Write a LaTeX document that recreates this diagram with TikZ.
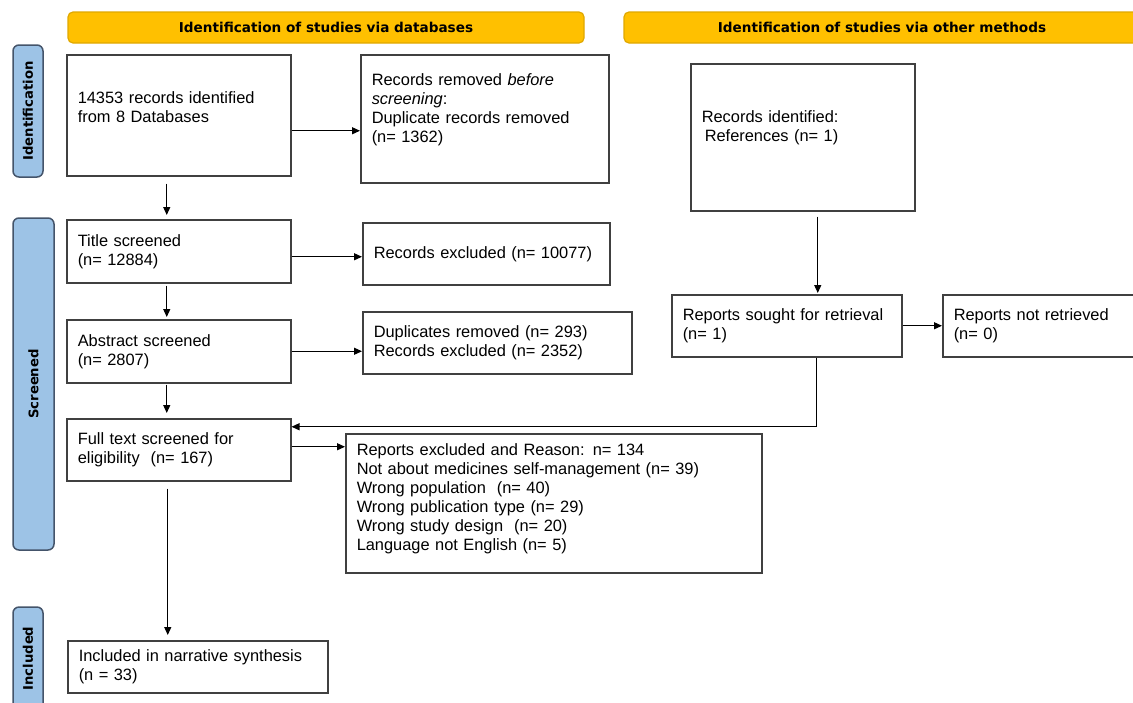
\documentclass[tikz,border=0pt]{standalone}
\usepackage{fontspec}
\setmainfont{Liberation Sans}
\newfontfamily\headfont{DejaVu Sans}
\usetikzlibrary{arrows.meta, positioning, calc}
\definecolor{headyellow}{HTML}{FFC000}
\definecolor{headedge}{HTML}{E0A800}
\definecolor{phaseblue}{HTML}{9DC3E6}
\definecolor{phaseedge}{HTML}{44546A}
\definecolor{boxedge}{HTML}{404040}
\newcommand{\boxpad}[1]{\rule[-#1]{0pt}{#1}}

\begin{document}
\begin{tikzpicture}[x=0.5pt, y=-0.5pt, >={Triangle[length=4pt,width=3.5pt]}, line width=0.6pt,
  box/.style={draw=boxedge, line width=0.75pt, anchor=north west, align=left, inner xsep=5.5pt, inner ysep=0pt, font=\fontsize{8.2}{9.5}\selectfont},
  head/.style={draw=headedge, fill=headyellow, rounded corners=2.5pt, minimum width=258pt, minimum height=15.5pt, font=\headfont\bfseries\fontsize{6.8}{8}\selectfont},
  phase/.style={draw=phaseedge, fill=phaseblue, line width=0.75pt, rounded corners=3pt, rotate=90, font=\headfont\bfseries\fontsize{6.6}{8}\selectfont},
  link/.style={->, draw=black}]

  \useasboundingbox (0,0) rectangle (1133,702);

  % column headers
  \node[head] (dbhead) at (326,27.5) {Identification of studies via databases};
  \node[head] (otherhead) at (882,27.5) {Identification of studies via other methods};

  % phases
  \node[phase, minimum width=66pt, minimum height=15pt] (idphase) at (28,111) {Identification};
  \node[phase, minimum width=166pt, minimum height=20.5pt] (scphase) at (33.5,384) {Screened};
  \node[phase, minimum width=51.5pt, minimum height=15pt] (inphase) at (28,658.5) {Included};

  % databases
  \node[box, minimum width=112pt, text width=101pt, minimum height=60.5pt] (b1) at (66,54) {14353 records identified\\from 8 Databases\boxpad{8pt}};
  \node[box, minimum width=124pt, text width=113pt, minimum height=64pt] (b2) at (360,54) {Records removed \textit{before}\\\textit{screening}:\\Duplicate records removed\\(n= 1362)\boxpad{10.5pt}};
  \node[box, minimum width=112pt, text width=101pt, minimum height=31.5pt] (b4) at (66,219) {Title screened\\(n= 12884)};
  \node[box, minimum width=123.5pt, text width=112.5pt, minimum height=31pt] (b5) at (362,222) {Records excluded (n= 10077)};
  \node[box, minimum width=112pt, text width=101pt, minimum height=31.5pt] (b6) at (66,319) {Abstract screened\\(n= 2807)};
  \node[box, minimum width=134.5pt, text width=123.5pt, minimum height=31pt] (b7) at (362,311) {Duplicates removed (n= 293)\\Records excluded (n= 2352)};
  \node[box, minimum width=112pt, text width=101pt, minimum height=31pt] (b10) at (66,418) {Full text screened for\\eligibility\ \ (n= 167)};
  \node[box, minimum width=208pt, text width=197pt, minimum height=69.5pt] (b11) at (345,433) {Reports excluded and Reason: n= 134\\Not about medicines self-management (n= 39)\\Wrong population\ \ (n= 40)\\Wrong publication type (n= 29)\\Wrong study design\ \ (n= 20)\\Language not English (n= 5)\boxpad{6.7pt}};
  \node[box, minimum width=130pt, text width=119pt, minimum height=26pt] (b12) at (67,640) {Included in narrative synthesis\\(n = 33)};

  % other methods
  \node[box, minimum width=112pt, text width=101pt, minimum height=73.5pt] (b3) at (690,63) {Records identified:\\\hspace*{1.5pt}References (n= 1)\boxpad{11pt}};
  \node[box, minimum width=115pt, text width=104pt, minimum height=31pt] (b8) at (671,294) {Reports sought for retrieval\\(n= 1)};
  \node[box, minimum width=100pt, text width=89pt, minimum height=31pt] (b9) at (942,294) {Reports not retrieved\\(n= 0)};

  % connectors
  \coordinate (a1) at ([yshift=-7.75pt]b1.east);
  \coordinate (a2) at ([yshift=-2.75pt]b4.east);
  \coordinate (a5) at ([yshift=1.5pt]b10.east);
  \draw[link] (a1) -- (a1 -| b2.west);
  \draw[link] (a2) -- (a2 -| b5.west);
  \draw[link] (b6.east) -- (b6.east -| b7.west);
  \draw[link] (b8.east) -- (b8.east -| b9.west);
  \draw[link] (a5) -- (a5 -| b11.west);

  \coordinate (d1) at ([xshift=-6pt]b1.south);
  \coordinate (d2) at ([xshift=-6pt]b4.south);
  \coordinate (d3) at ([xshift=-6pt]b6.south);
  \coordinate (d4) at ([xshift=-5.5pt]b10.south);
  \coordinate (d5) at ([xshift=7.5pt]b3.south);
  \draw[link, shorten <=3.5pt, shorten >=2pt] (d1) -- (d1 |- b4.north);
  \draw[link, shorten <=1pt, shorten >=1pt] (d2) -- (d2 |- b6.north);
  \draw[link, shorten <=0.5pt, shorten >=2.5pt] (d3) -- (d3 |- b10.north);
  \draw[link, shorten <=3.5pt, shorten >=2.5pt] (d4) -- (d4 |- b12.north);
  \draw[link, shorten <=2.5pt, shorten >=0.5pt] (d5) -- (d5 |- b8.north);

  \coordinate (r1) at ([xshift=15pt]b8.south);
  \coordinate (r2) at ([yshift=11.5pt]b10.east);
  \draw[link] (r1) |- (r2);
\end{tikzpicture}
\end{document}
